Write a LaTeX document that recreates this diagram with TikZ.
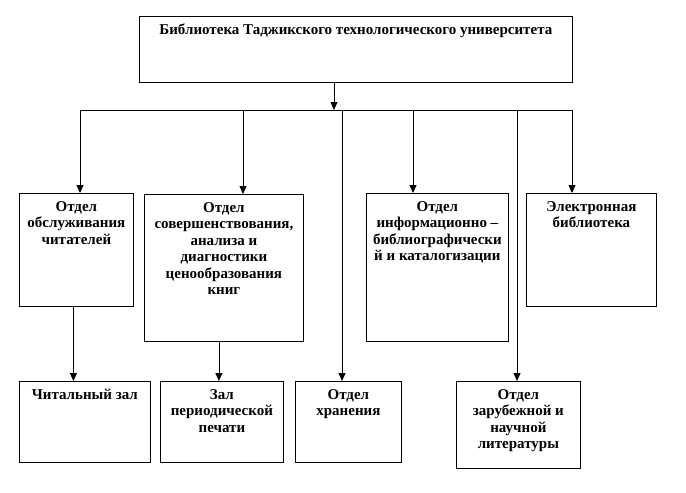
\documentclass[tikz,border=0pt]{standalone}
\usepackage{fontspec}
\setmainfont{Liberation Serif}
\usetikzlibrary{arrows.meta}

\begin{document}
\begin{tikzpicture}[x=1pt,y=-1pt,
  box/.style={draw, line width=0.8pt, anchor=north west, inner sep=0pt},
  title/.style={anchor=north, align=center, inner sep=0pt,
                font=\fontsize{15}{16.5}\selectfont\bfseries},
  arr/.style={line width=0.8pt, -{Triangle[length=8pt,width=7pt]}}]

 \useasboundingbox (0,0) rectangle (686,493);

 % boxes
 \node[box, minimum width=433pt, minimum height=66pt]  (lib)    at (139,16)  {};
 \node[box, minimum width=114pt, minimum height=113pt] (obsl)   at (19,193)  {};
 \node[box, minimum width=159pt, minimum height=147pt] (sover)  at (144,194) {};
 \node[box, minimum width=142pt, minimum height=148pt] (inform) at (366,193) {};
 \node[box, minimum width=130pt, minimum height=113pt] (elek)   at (526,193) {};
 \node[box, minimum width=131pt, minimum height=81pt]  (chit)   at (19,381)  {};
 \node[box, minimum width=123pt, minimum height=81pt]  (period) at (160,381) {};
 \node[box, minimum width=106pt, minimum height=81pt]  (hran)   at (295,381) {};
 \node[box, minimum width=124pt, minimum height=87pt]  (zarub)  at (456,381) {};

 % texts
 \node[title] (libT)    at ([yshift=-8pt]lib.north)    {Библиотека Таджикского технологического университета};
 \node[title] (obslT)   at ([yshift=-8pt]obsl.north)   {Отдел\\обслуживания\\читателей};
 \node[title] (soverT)  at ([yshift=-8pt]sover.north)  {Отдел\\совершенствования,\\анализа и\\диагностики\\ценообразования\\книг};
 \node[title] (informT) at ([yshift=-8pt]inform.north) {Отдел\\информационно –\\библиографически\\й и каталогизации};
 \node[title] (elekT)   at ([yshift=-8pt]elek.north)   {Электронная\\библиотека};
 \node[title] (chitT)   at ([yshift=-8pt]chit.north)   {Читальный зал};
 \node[title] (periodT) at ([yshift=-8pt]period.north) {Зал\\периодической\\печати};
 \node[title] (hranT)   at ([yshift=-8pt]hran.north)   {Отдел\\хранения};
 \node[title] (zarubT)  at ([yshift=-8pt]zarub.north)  {Отдел\\зарубежной и\\научной\\литературы};

 % bus
 \coordinate (busM) at (334,110);
 \coordinate (b1) at (80,110);
 \coordinate (b2) at (243,110);
 \coordinate (b3) at (342,110);
 \coordinate (b4) at (413,110);
 \coordinate (b5) at (517,110);
 \coordinate (b6) at (572,110);

 \draw[line width=0.8pt] (b1) -- (b6);
 \draw[arr] (lib.south -| busM) -- (busM);

 % arrows
 \draw[arr] (b1) -- (b1 |- obsl.north);
 \draw[arr] (b2) -- (b2 |- sover.north);
 \draw[arr] (b3) -- (b3 |- hran.north);
 \draw[arr] (b4) -- (b4 |- inform.north);
 \draw[arr] (b5) -- (b5 |- zarub.north);
 \draw[arr] (b6) -- (b6 |- elek.north);

 \draw[arr] ([xshift=-3pt]obsl.south) -- ([xshift=-3pt]obsl.south |- chit.north);
 \draw[arr] ([xshift=-5pt]sover.south) -- ([xshift=-5pt]sover.south |- period.north);
\end{tikzpicture}
\end{document}
